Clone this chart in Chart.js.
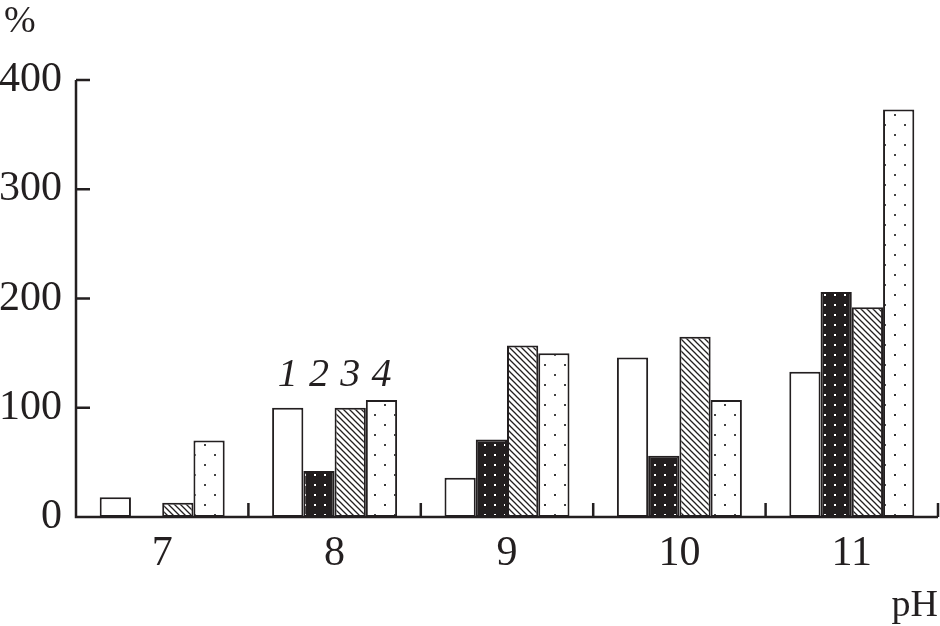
<!DOCTYPE html>
<html>
<head>
<meta charset="utf-8">
<script src="https://cdn.jsdelivr.net/npm/chart.js@4.4.1/dist/chart.umd.min.js"></script>
<style>
  html, body { margin: 0; padding: 0; background: #fff; }
  #wrap { width: 940px; height: 626px; position: relative; }
</style>
</head>
<body>
<div id="wrap"><canvas id="phChart"></canvas></div>
<script>
// pH categories and the four series (%)
var categories = ["7", "8", "9", "10", "11"];
var series1 = [18, 100, 36, 146, 133];
var series2 = [0, 42, 71, 56, 206];
var series3 = [13, 100, 157, 165, 192];
var series4 = [70, 107, 150, 107, 373];
var seriesNames = ["1", "2", "3", "4"];
var yTicks = [0, 100, 200, 300, 400];

var ink = "#231f20";
var serif = "'Liberation Serif', 'DejaVu Serif', serif";

function makePattern(kind) {
  var c = document.createElement("canvas");
  var g = c.getContext("2d");
  if (kind === "blackDots") {
    c.width = 10; c.height = 10;
    g.fillStyle = ink; g.fillRect(0, 0, 10, 10);
    g.fillStyle = "#fff"; g.fillRect(4, 4, 2, 2);
  } else if (kind === "hatch") {
    c.width = 6; c.height = 6;
    g.fillStyle = "#fff"; g.fillRect(0, 0, 6, 6);
    g.strokeStyle = ink; g.lineWidth = 1.3;
    g.beginPath();
    g.moveTo(-1, -1); g.lineTo(7, 7);
    g.moveTo(-1, 5); g.lineTo(1, 7);
    g.moveTo(5, -1); g.lineTo(7, 1);
    g.stroke();
  } else if (kind === "sparseDots") {
    c.width = 20; c.height = 20;
    g.fillStyle = "#fff"; g.fillRect(0, 0, 20, 20);
    g.fillStyle = "#444";
    g.fillRect(4, 4, 2, 2);
    g.fillRect(14, 14, 2, 2);
  }
  return g.createPattern(c, "repeat");
}

// inward ticks, italic series numbers above pH 8, axis titles
var decorations = {
  id: "decorations",
  afterDraw: function (chart) {
    var ctx = chart.ctx;
    var area = chart.chartArea;
    var x = chart.scales.x, y = chart.scales.y;
    ctx.save();
    ctx.strokeStyle = ink;
    ctx.lineWidth = 2.5;
    ctx.beginPath();
    ctx.moveTo(area.left, area.top);
    ctx.lineTo(area.left, area.bottom);
    ctx.lineTo(area.right, area.bottom);
    yTicks.forEach(function (v) {
      var py = y.getPixelForValue(v);
      ctx.moveTo(area.left, py);
      ctx.lineTo(area.left + 14, py);
    });
    for (var i = 1; i <= categories.length; i++) {
      var px = x.getPixelForValue(i - 0.5);
      ctx.moveTo(px, area.bottom);
      ctx.lineTo(px, area.bottom - 14);
    }
    ctx.stroke();

    ctx.fillStyle = ink;
    ctx.font = "italic 40px " + serif;
    ctx.textAlign = "center";
    ctx.textBaseline = "alphabetic";
    seriesNames.forEach(function (name, d) {
      var bar = chart.getDatasetMeta(d).data[1];
      ctx.fillText(name, bar.x, 386);
    });

    ctx.font = "38px " + serif;
    ctx.textAlign = "left";
    ctx.fillText("%", 4, 32);
    ctx.textAlign = "right";
    ctx.fillText("pH", 938, 616);
    ctx.restore();
  }
};

document.addEventListener("DOMContentLoaded", function () {
  var ctx = document.getElementById("phChart").getContext("2d");
  var fills = ["#fff", makePattern("blackDots"), makePattern("hatch"), makePattern("sparseDots")];
  var values = [series1, series2, series3, series4];

  var phChart = new Chart(ctx, {
    type: "bar",
    data: {
      labels: categories,
      datasets: values.map(function (vals, i) {
        return {
          label: seriesNames[i],
          data: vals,
          backgroundColor: fills[i],
          borderColor: ink,
          borderWidth: 2,
          borderSkipped: false,
          barPercentage: 1,
          categoryPercentage: 0.725
        };
      })
    },
    options: {
      responsive: true,
      maintainAspectRatio: false,
      animation: false,
      layout: { padding: { top: 80, right: 2, left: 0, bottom: 0 } },
      plugins: {
        legend: { display: false },
        tooltip: { enabled: false }
      },
      scales: {
        x: {
          grid: { display: false, drawTicks: false },
          border: { display: false },
          ticks: {
            color: ink,
            font: { family: serif, size: 42 },
            padding: 12
          },
          afterFit: function (scale) { scale.height = 109; }
        },
        y: {
          min: 0,
          max: 400,
          grid: { display: false, drawTicks: false },
          border: { display: false },
          afterBuildTicks: function (scale) {
            scale.ticks = yTicks.map(function (v) { return { value: v }; });
          },
          ticks: {
            color: ink,
            font: { family: serif, size: 42 },
            padding: 14
          },
          afterFit: function (scale) { scale.width = 76; }
        }
      }
    },
    plugins: [decorations]
  });
});
</script>
</body>
</html>
